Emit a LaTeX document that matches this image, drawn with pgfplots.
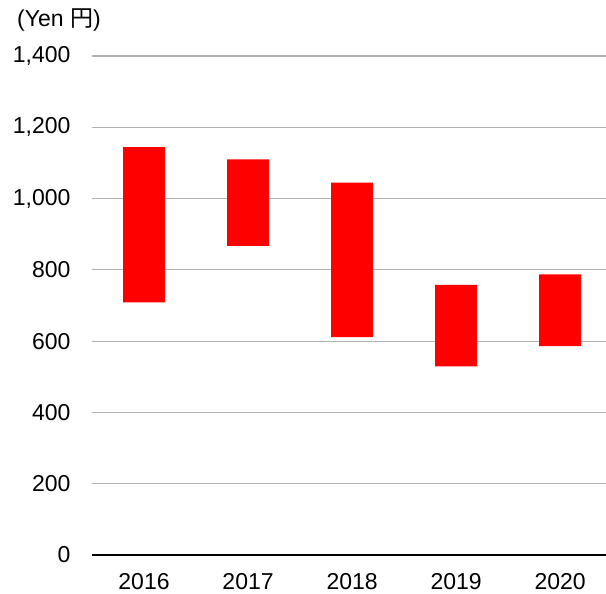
\documentclass[border=0pt]{standalone}
\usepackage{pgfplots}
\pgfplotsset{compat=1.18}
\usepackage{pgfplotstable}
\usepackage{fontspec}
\setmainfont{Liberation Sans}
\newfontfamily\cjk{Noto Sans CJK JP}

% yearly low / high price range
\pgfplotstableread{
x year low high
0 2016 709 1144
1 2017 867 1110
2 2018 611 1045
3 2019 529 758
4 2020 586 787
}\prices

\begin{document}
\begin{tikzpicture}
\useasboundingbox (-92pt,-39pt) rectangle (514pt,555pt);
\begin{axis}[
    scale only axis, width=514pt, height=499pt,
    ybar stacked, bar width=42pt,
    xmin=-0.5, xmax=4.44, ymin=0, ymax=1400,
    ytick={0,200,...,1400},
    xtick={0,1,2,3,4}, xticklabels={2016,2017,2018,2019,2020},
    axis lines*=left, axis line style={-},
    y axis line style={draw=none},
    x axis line style={black, line width=1.2pt},
    major tick length=0pt,
    ymajorgrids, major grid style={gray!60, line width=1.1pt},
    ticklabel style={font=\fontsize{23}{27}\selectfont},
    /pgf/number format/assume math mode=true,
    /pgf/number format/1000 sep={,},
    yticklabel style={xshift=-18pt},
    xticklabel style={yshift=-15pt},
    clip=false,
]
\addplot[draw=none, fill=none] table[x=x, y=low] {\prices};
\addplot[draw=none, fill=red] table[x=x, y expr=\thisrow{high}-\thisrow{low}] {\prices};
\end{axis}
\node[anchor=west, font=\fontsize{23}{27}\selectfont, inner sep=0pt] at (-75pt,535pt) {(Yen {\cjk 円})};
\end{tikzpicture}
\end{document}
